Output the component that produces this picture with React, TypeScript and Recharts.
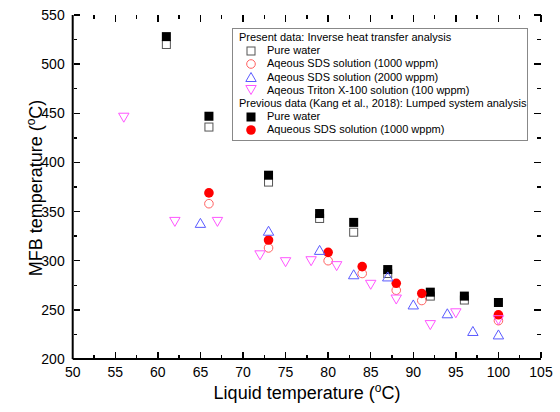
import React from "react";
import { ScatterChart, Scatter, XAxis, YAxis } from "recharts";

// liquid temperature (°C) for each series
const pureX = [61, 66, 73, 79, 83, 87, 92, 96];
const pureLumpX = [61, 66, 73, 79, 83, 87, 92, 96, 100];
const sds1000X = [66, 73, 80, 84, 88, 91, 100];
const sds2000X = [65, 73, 79, 83, 87, 90, 94, 97, 100];
const tritonX = [56, 62, 67, 72, 75, 78, 81, 85, 88, 92, 95, 100];

// MFB temperature (°C)
const pureInverse = [520, 436, 380, 343, 329, 287, 264, 260];
const pureLumped = [528, 447, 387, 348, 339, 291, 268, 264, 257.5];
const sds1000Inverse = [358, 313, 300, 287, 270, 259.5, 239];
const sds1000Lumped = [369, 321, 308.5, 294, 277, 266.7, 245];
const sds2000Inverse = [338, 330, 310.5, 285.7, 283.5, 255, 246, 228, 224.5];
const tritonInverse = [446, 340, 340, 306, 299, 300, 295, 276, 261, 235, 247, 240];

// tick values
const xMajor = [50, 55, 60, 65, 70, 75, 80, 85, 90, 95, 100, 105];
const xMinor = [52.5, 57.5, 62.5, 67.5, 72.5, 77.5, 82.5, 87.5, 92.5, 97.5, 102.5];
const yMajor = [200, 250, 300, 350, 400, 450, 500, 550];
const yMinor = [225, 275, 325, 375, 425, 475, 525];

const X_MIN = 50;
const X_MAX = 105;
const Y_MIN = 200;
const Y_MAX = 550;
const EDGE = 0.01;

// layout of the plot box (chart margins + axis sizes)
const W = 560;
const H = 412;
const M_TOP = 15;
const M_RIGHT = 19;
const Y_AXIS_W = 72.7;
const X_AXIS_H = 53;
const PLOT_L = Y_AXIS_W;
const PLOT_B = H - X_AXIS_H;

const toPts = (xs: number[], ys: number[]) => xs.map((x, i) => ({ x, y: ys[i] }));
const onTop = (vs: number[]) => vs.map((x) => ({ x, y: Y_MAX - EDGE }));
const onRight = (vs: number[]) => vs.map((y) => ({ x: X_MAX - EDGE, y }));

const FONT = "'Liberation Sans', Arial, sans-serif";
const C_OPEN_SQ = "#555555";
const C_OPEN_CIRCLE = "#ff6060";
const C_UP = "#5a5aff";
const C_DOWN = "#ff55ff";
const MAJOR = 6.5;
const MINOR = 3.5;

const OpenSquare = ({ cx, cy }: any) => (
  <rect x={cx - 4} y={cy - 4} width={8} height={8} fill="none" stroke={C_OPEN_SQ} strokeWidth={1} />
);
const FilledSquare = ({ cx, cy }: any) => <rect x={cx - 4.5} y={cy - 4.5} width={9} height={9} fill="#000" />;
const OpenCircle = ({ cx, cy }: any) => (
  <circle cx={cx} cy={cy} r={4.3} fill="none" stroke={C_OPEN_CIRCLE} strokeWidth={1} />
);
const FilledCircle = ({ cx, cy }: any) => <circle cx={cx} cy={cy} r={4.8} fill="#ff0000" />;
const UpTri = ({ cx, cy }: any) => (
  <path d={`M${cx},${cy - 5} L${cx + 5.2},${cy + 4} L${cx - 5.2},${cy + 4} Z`} fill="none" stroke={C_UP} strokeWidth={1} />
);
const DownTri = ({ cx, cy }: any) => (
  <path d={`M${cx},${cy + 5} L${cx + 5.2},${cy - 4} L${cx - 5.2},${cy - 4} Z`} fill="none" stroke={C_DOWN} strokeWidth={1} />
);

// a top tick also draws its bottom twin; a right tick draws its left twin
const topBottomTick = (len: number) => ({ cx, cy }: any) => (
  <g>
    <line x1={cx} y1={cy} x2={cx} y2={cy + len} stroke="#000" strokeWidth={1.5} shapeRendering="crispEdges" />
    <line x1={cx} y1={PLOT_B - 1} x2={cx} y2={PLOT_B - 1 - len} stroke="#000" strokeWidth={1.5} shapeRendering="crispEdges" />
  </g>
);
const rightLeftTick = (len: number) => ({ cx, cy }: any) => (
  <g>
    <line x1={cx} y1={cy} x2={cx - len} y2={cy} stroke="#000" strokeWidth={1.5} shapeRendering="crispEdges" />
    <line x1={PLOT_L + 1} y1={cy} x2={PLOT_L + 1 + len} y2={cy} stroke="#000" strokeWidth={1.5} shapeRendering="crispEdges" />
  </g>
);

const BottomLabel = ({ x, y, payload }: any) => (
  <text x={x} y={y + 18} textAnchor="middle" fontSize={14} fill="#000" fontFamily={FONT}>
    {payload.value}
  </text>
);
const LeftLabel = ({ x, y, payload }: any) => (
  <text x={x - 8} y={y + 5} textAnchor="end" fontSize={14} fill="#000" fontFamily={FONT}>
    {payload.value}
  </text>
);

const legendHeader: React.CSSProperties = { paddingLeft: 6, whiteSpace: "nowrap", height: 13.2 };

function LegendRow({ marker, text }: { marker: React.ReactNode; text: string }) {
  return (
    <div style={{ display: "flex", alignItems: "center", height: 13.2, whiteSpace: "nowrap" }}>
      <svg width={14} height={12} style={{ marginLeft: 11, marginRight: 9 }}>
        {marker}
      </svg>
      <span>{text}</span>
    </div>
  );
}

const axisLineStyle = { stroke: "#000", strokeWidth: 2 };

export default function App() {
  return (
    <div style={{ position: "absolute", left: 0, top: 0, width: W, height: H, background: "#fff" }}>
      <ScatterChart width={W} height={H} margin={{ top: M_TOP, right: M_RIGHT, bottom: 0, left: 0 }} style={{ fontFamily: FONT }}>
        <XAxis
          xAxisId="b"
          dataKey="x"
          type="number"
          domain={[X_MIN, X_MAX]}
          ticks={xMajor}
          interval={0}
          height={X_AXIS_H}
          tickSize={0}
          tickMargin={0}
          tickLine={false}
          axisLine={axisLineStyle}
          tick={BottomLabel}
          label={{
            content: () => (
              <text x={307} y={399} textAnchor="middle" fontSize={18} fill="#000" fontFamily={FONT}>
                Liquid temperature (
                <tspan fontSize={12} dy={-7}>
                  o
                </tspan>
                <tspan dy={7}>C)</tspan>
              </text>
            ),
          }}
        />
        <XAxis xAxisId="t" orientation="top" type="number" domain={[X_MIN, X_MAX]} height={0}
          tickLine={false} tick={false} axisLine={axisLineStyle} />
        <YAxis
          yAxisId="l"
          dataKey="y"
          type="number"
          domain={[Y_MIN, Y_MAX]}
          ticks={yMajor}
          interval={0}
          width={Y_AXIS_W}
          tickSize={0}
          tickMargin={0}
          tickLine={false}
          axisLine={axisLineStyle}
          tick={LeftLabel}
          label={{
            content: () => (
              <text
                x={42}
                y={188}
                transform="rotate(-90 42 188)"
                textAnchor="middle"
                fontSize={18}
                fill="#000"
                fontFamily={FONT}
              >
                MFB temperature (
                <tspan fontSize={12} dy={-7}>
                  o
                </tspan>
                <tspan dy={7}>C)</tspan>
              </text>
            ),
          }}
        />
        <YAxis yAxisId="r" orientation="right" type="number" domain={[Y_MIN, Y_MAX]} width={0}
          tickLine={false} tick={false} axisLine={axisLineStyle} />

        {/* tick marks (top/bottom from x ticks, right/left from y ticks) */}
        <Scatter xAxisId="b" yAxisId="l" data={onTop(xMajor)} shape={topBottomTick(MAJOR)} isAnimationActive={false} />
        <Scatter xAxisId="b" yAxisId="l" data={onTop(xMinor)} shape={topBottomTick(MINOR)} isAnimationActive={false} />
        <Scatter xAxisId="b" yAxisId="l" data={onRight(yMajor)} shape={rightLeftTick(MAJOR)} isAnimationActive={false} />
        <Scatter xAxisId="b" yAxisId="l" data={onRight(yMinor)} shape={rightLeftTick(MINOR)} isAnimationActive={false} />

        {/* data */}
        <Scatter xAxisId="b" yAxisId="l" data={toPts(pureX, pureInverse)} shape={OpenSquare} isAnimationActive={false} />
        <Scatter xAxisId="b" yAxisId="l" data={toPts(pureLumpX, pureLumped)} shape={FilledSquare} isAnimationActive={false} />
        <Scatter xAxisId="b" yAxisId="l" data={toPts(sds1000X, sds1000Inverse)} shape={OpenCircle} isAnimationActive={false} />
        <Scatter xAxisId="b" yAxisId="l" data={toPts(sds1000X, sds1000Lumped)} shape={FilledCircle} isAnimationActive={false} />
        <Scatter xAxisId="b" yAxisId="l" data={toPts(sds2000X, sds2000Inverse)} shape={UpTri} isAnimationActive={false} />
        <Scatter xAxisId="b" yAxisId="l" data={toPts(tritonX, tritonInverse)} shape={DownTri} isAnimationActive={false} />
      </ScatterChart>
      <div
        style={{
          position: "absolute",
          left: 232,
          top: 28,
          width: 296,
          height: 113,
          boxSizing: "border-box",
          border: "1px solid #888",
          background: "#fff",
          fontFamily: FONT,
          fontSize: 11,
          lineHeight: "13.2px",
          color: "#000",
          paddingTop: 2,
        }}
      >
        <div style={legendHeader}>Present data: Inverse heat transfer analysis</div>
        <LegendRow marker={<OpenSquare cx={7} cy={6} />} text="Pure water" />
        <LegendRow marker={<OpenCircle cx={7} cy={6} />} text="Aqeous SDS solution (1000 wppm)" />
        <LegendRow marker={<UpTri cx={7} cy={6.5} />} text="Aqeous SDS solution (2000 wppm)" />
        <LegendRow marker={<DownTri cx={7} cy={5.5} />} text="Aqeous Triton X-100 solution (100 wppm)" />
        <div style={legendHeader}>Previous data (Kang et al., 2018): Lumped system analysis</div>
        <LegendRow marker={<FilledSquare cx={7} cy={6} />} text="Pure water" />
        <LegendRow marker={<FilledCircle cx={7} cy={6} />} text="Aqueous SDS solution (1000 wppm)" />
      </div>
    </div>
  );
}
